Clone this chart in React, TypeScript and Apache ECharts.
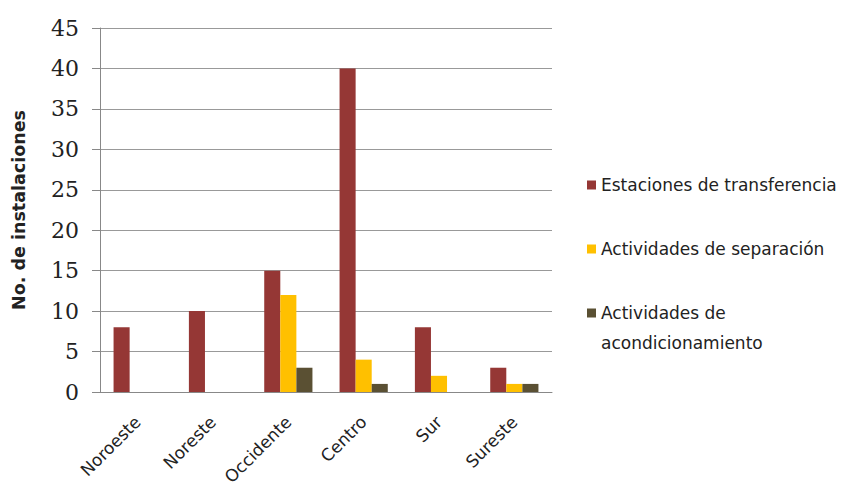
import React, { useEffect, useRef } from "react";
import * as echarts from "echarts";

const categories = ["Noroeste", "Noreste", "Occidente", "Centro", "Sur", "Sureste"];
const estaciones = [8, 10, 15, 40, 8, 3];
const separacion = [0, 0, 12, 4, 2, 1];
const acondicionamiento = [0, 0, 3, 1, 0, 1];
const seriesNames = [
  "Estaciones de transferencia",
  "Actividades de separación",
  "Actividades de acondicionamiento",
];
const colors = ["#953735", "#FFC000", "#5A5033"];

export default function App() {
  const ref = useRef<HTMLDivElement>(null);
  useEffect(() => {
    if (!ref.current) return;
    const chart = echarts.init(ref.current, undefined, { renderer: "svg" });
    chart.setOption({
      animation: false,
      backgroundColor: "#ffffff",
      color: colors,
      grid: {
        left: 100,
        right: 293,
        top: 28,
        bottom: 95,
        containLabel: false,
        outerBoundsMode: "none",
      },
      legend: {
        orient: "vertical",
        left: 587,
        top: 175,
        padding: 0,
        itemWidth: 9,
        itemHeight: 9,
        itemGap: 44,
        icon: "rect",
        data: seriesNames,
        formatter: (name: string) =>
          name === "Actividades de acondicionamiento" ? "Actividades de" : name,
        textStyle: { fontFamily: "DejaVu Sans", fontSize: 17, color: "#222", lineHeight: 20 },
      },
      graphic: [
        {
          type: "text",
          left: 601,
          top: 334,
          style: {
            text: "acondicionamiento",
            font: "17px 'DejaVu Sans'",
            fill: "#222",
          },
        },
      ],
      xAxis: {
        type: "category",
        data: categories,
        axisLine: { show: true, lineStyle: { color: "#888", width: 1 } },
        axisTick: { show: false },
        axisLabel: {
          rotate: 45,
          margin: 27,
          fontFamily: "DejaVu Sans",
          fontSize: 17,
          color: "#222",
        },
      },
      yAxis: {
        type: "value",
        min: 0,
        max: 45,
        interval: 5,
        name: "No. de instalaciones",
        nameLocation: "middle",
        nameGap: 72,
        nameTextStyle: {
          fontFamily: "DejaVu Sans",
          fontWeight: "bold",
          fontSize: 17.5,
          color: "#222",
        },
        axisLine: { show: true, lineStyle: { color: "#888", width: 1 } },
        axisTick: { show: true, length: 8, lineStyle: { color: "#888" } },
        axisLabel: {
          margin: 21,
          fontFamily: "DejaVu Serif",
          fontSize: 22,
          color: "#222",
        },
        splitLine: { show: true, lineStyle: { color: "#999", width: 1 } },
      },
      series: [
        { name: seriesNames[0], type: "bar", data: estaciones, barGap: "0%", barCategoryGap: "36%" },
        { name: seriesNames[1], type: "bar", data: separacion, barGap: "0%", barCategoryGap: "36%" },
        { name: seriesNames[2], type: "bar", data: acondicionamiento, barGap: "0%", barCategoryGap: "36%" },
      ],
    });
    return () => chart.dispose();
  }, []);
  return <div ref={ref} style={{ width: 845, height: 487, position: "absolute", left: 0, top: 0 }} />;
}
